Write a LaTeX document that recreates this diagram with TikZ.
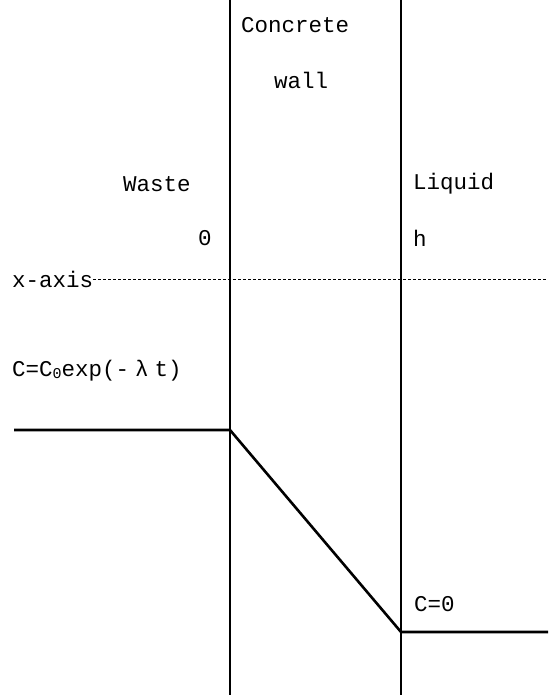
\documentclass[tikz,border=0pt]{standalone}
\usepackage{fontspec}
\setmainfont{Liberation Mono}
\usepackage{tikz}
\usetikzlibrary{calc, positioning}

\tikzset{
  lbl/.style={font=\fontsize{22.5}{25}\selectfont, inner sep=0pt, anchor=west},
  wall/.style={line width=2.6pt},
  profile/.style={line width=2.6pt}
}

\begin{document}
\begin{tikzpicture}[x=1pt,y=-1pt]
\useasboundingbox (0,0) rectangle (548,695);

% Walls
\draw[wall] (230,0) coordinate (lt) -- (230,695) coordinate (lb);
\draw[wall] (401,0) coordinate (rt) -- (401,695) coordinate (rb);

% Labels
\node[lbl] (conc) at (241,25) {Concrete};
\node[lbl] (wall) at (274,80) {wall};
\node[lbl] (waste) at (123,184) {Waste};
\node[lbl] (liquid) at (413,184) {Liquid};
\node[lbl] (zero) at (198,238) {0};
\node[lbl] (h) at (413,238) {h};
\node[lbl] (xaxis) at (12,279) {x-axis};
\node[lbl] (bc0) at (12,371) {C=C{\raisebox{-2pt}{\fontsize{15}{16}\selectfont 0}}exp(-\hspace{6pt}λ\hspace{6pt}t)};
\node[lbl] (bc1) at (414,604) {C=0};

% x-axis
\draw[densely dashed, line width=0.6pt] (xaxis.east) -- (548,279) coordinate (xend);

% Concentration profile
\coordinate (p0) at (14,430);
\coordinate (p1) at (230,430);
\coordinate (p2) at (401,632);
\coordinate (p3) at (548,632);
\draw[profile] (p0) -- (p1) -- (p2) -- (p3);

\end{tikzpicture}
\end{document}
